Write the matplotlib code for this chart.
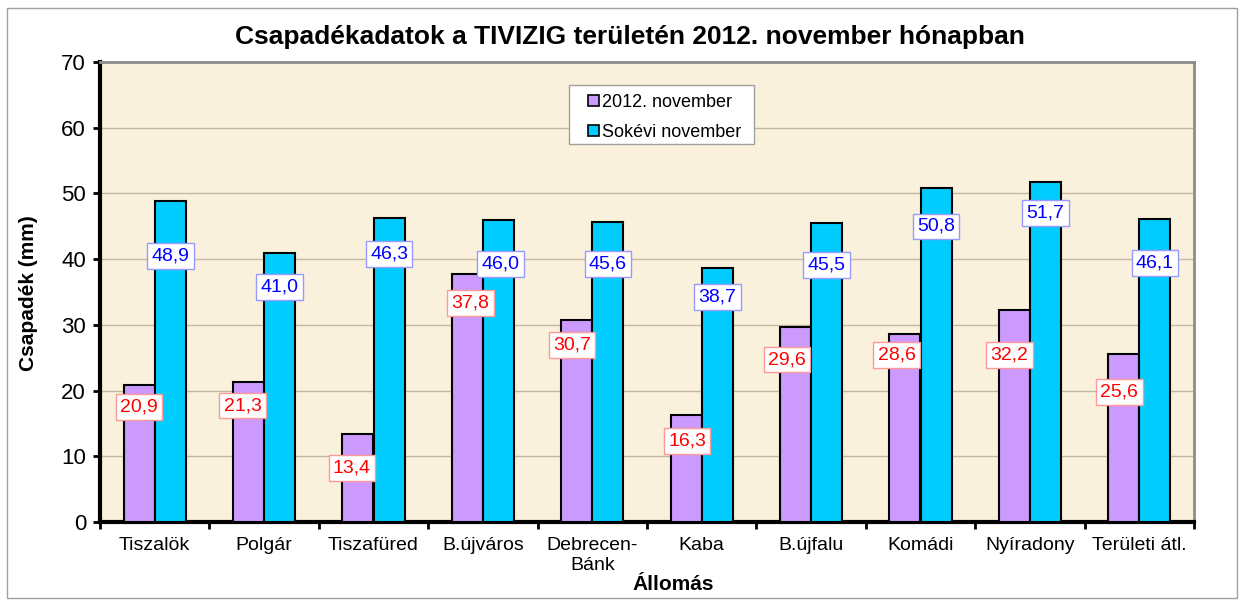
import matplotlib
matplotlib.use("Agg")
import matplotlib.pyplot as plt
from matplotlib.patches import Rectangle
import numpy as np

plt.rcParams['font.family'] = ['Liberation Sans', 'DejaVu Sans']

categories = ["Tiszalök", "Polgár", "Tiszafüred", "B.újváros", "Debrecen-\nBánk",
              "Kaba", "B.újfalu", "Komádi", "Nyíradony", "Területi átl."]
nov_2012 = [20.9, 21.3, 13.4, 37.8, 30.7, 16.3, 29.6, 28.6, 32.2, 25.6]
sokevi = [48.9, 41.0, 46.3, 46.0, 45.6, 38.7, 45.5, 50.8, 51.7, 46.1]
series_names = ["2012. november", "Sokévi november"]

# label placement (data-unit y of label centres, x shift in category units)
nov_label_y = [17.5, 17.7, 8.2, 33.3, 26.9, 12.3, 24.7, 25.4, 25.4, 19.8]
nov_label_dx = [0.0, -0.055, -0.055, 0.03, -0.045, 0.01, -0.08, -0.075, -0.045, -0.04]
sok_label_y = [40.5, 35.8, 40.8, 39.3, 39.3, 34.2, 39.1, 45.0, 47.0, 39.4]
sok_label_dx = [0.0, 0.0, 0.0, 0.02, 0.0, 0.0, 0.0, 0.0, 0.0, 0.0]

W, H = 1242, 605
fig = plt.figure(figsize=(W / 100, H / 100), dpi=100)
fig.patch.set_facecolor("white")
fig.add_artist(Rectangle((7 / W, 1 - 598 / H), (1237 - 7) / W, (598 - 8) / H,
                         transform=fig.transFigure, fill=False,
                         edgecolor="#A0A0A0", linewidth=1.0))

left, right, top, bottom = 100, 1194, 62, 522
ax = fig.add_axes([left / W, 1 - bottom / H, (right - left) / W, (bottom - top) / H])
ax.set_facecolor("#FAF1DC")

x = np.arange(len(categories))
bw = 0.285
ax.bar(x - bw / 2, nov_2012, bw, color="#CC99FF", edgecolor="black", linewidth=1.5,
       label=series_names[0], zorder=3)
ax.bar(x + bw / 2, sokevi, bw, color="#00CCFF", edgecolor="black", linewidth=1.5,
       label=series_names[1], zorder=3)

ax.set_xlim(-0.5, len(categories) - 0.5)
ax.set_ylim(0, 70)
ax.set_yticks(range(0, 71, 10))
ax.yaxis.grid(True, color="#C4B7A0", linewidth=1.0, zorder=1)
ax.set_axisbelow(True)

ax.set_xticks(x)
ax.set_xticklabels(categories, fontsize=14, linespacing=1.2)
ax.set_xticks(np.arange(-0.5, len(categories), 1.0), minor=True)
ax.tick_params(axis="x", which="major", length=0, pad=11)
ax.tick_params(axis="x", which="minor", length=5, width=2, direction="out")
ax.tick_params(axis="y", length=5, width=2, direction="out", labelsize=16, pad=5)

for s in ["left", "bottom"]:
    ax.spines[s].set_linewidth(3)
    ax.spines[s].set_color("black")
for s in ["top", "right"]:
    ax.spines[s].set_linewidth(2)
    ax.spines[s].set_color("#8C8C8C")

for i in range(len(categories)):
    ax.text(x[i] - bw / 2 + nov_label_dx[i], nov_label_y[i], f"{nov_2012[i]:.1f}".replace(".", ","),
            ha="center", va="center", fontsize=14, color="#FF0000", zorder=5,
            bbox=dict(boxstyle="square,pad=0.22", facecolor="white", edgecolor="#FF9999", linewidth=1))
    ax.text(x[i] + bw / 2 + sok_label_dx[i], sok_label_y[i], f"{sokevi[i]:.1f}".replace(".", ","),
            ha="center", va="center", fontsize=14, color="#0000FF", zorder=5,
            bbox=dict(boxstyle="square,pad=0.22", facecolor="white", edgecolor="#9999FF", linewidth=1))

# legend frame drawn separately to match the wide original box
frame = Rectangle((569 / W, 1 - 144 / H), (754 - 569) / W, (144 - 85) / H,
                  transform=fig.transFigure, facecolor="white",
                  edgecolor="#A0A0A0", linewidth=1.0, zorder=6, clip_on=False)
ax.add_artist(frame)
leg = ax.legend(loc="upper left", bbox_to_anchor=((588 - left) / (right - left), (522 - 94) / (bottom - top)),
                borderaxespad=0, fontsize=13, frameon=False,
                handlelength=0.6, handleheight=0.6, handletextpad=0.2,
                borderpad=0, labelspacing=0.7)
leg.set_zorder(7)
for h in leg.legend_handles:
    h.set_linewidth(1.2)

fig.text(630 / W, 1 - 37 / H, "Csapadékadatok a TIVIZIG területén 2012. november hónapban",
         fontsize=19, fontweight="bold", ha="center", va="center")
fig.text(29 / W, 1 - 293 / H, "Csapadék (mm)", fontsize=15, fontweight="bold",
         rotation=90, ha="center", va="center")
fig.text(673 / W, 1 - 584 / H, "Állomás", fontsize=15, fontweight="bold",
         ha="center", va="center")

fig.savefig("out.png", dpi=100, facecolor="white")
